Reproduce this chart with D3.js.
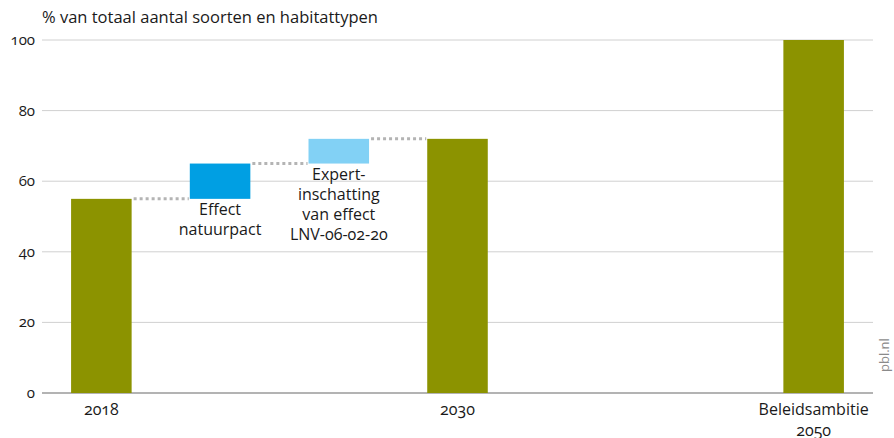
<!DOCTYPE html>
<html><head><meta charset="utf-8">
<script src="https://cdn.jsdelivr.net/npm/d3@7"></script>
<style>
body{margin:0;background:#fff;}
text{font-family:"Open Sans","Noto Sans",sans-serif;font-variant-numeric:oldstyle-nums;fill:#1a1a1a;}
</style></head>
<body><svg id="c" width="894" height="438"></svg>
<script>
const slots = ["2018","Effect natuurpact","Expert","2030","s4","s5","Beleidsambitie 2050"];
const barStart = [0, 55, 65, 0, null, null, 0];
const barEnd   = [55, 65, 72, 72, null, null, 100];
const barColors = ["#8c9300","#009fe3","#82d1f5","#8c9300",null,null,"#8c9300"];
const xLabels = [["2018"],[],[],["2030"],[],[],["Beleidsambitie","2050"]];
const innerLabels = [[],["Effect","natuurpact"],["Expert-","inschatting","van effect","LNV-06-02-20"],[],[],[],[]];
const yTicks = [0,20,40,60,80,100];
const yTitle = "% van totaal aantal soorten en habitattypen";

const svg = d3.select("#c");
const mLeft = 42, mRight = 873, mTop = 40, mBottom = 393;
const x = d3.scaleBand().domain(slots).range([mLeft,mRight]).paddingInner(0.49).paddingOuter(0.245);
const y = d3.scaleLinear().domain([0,100]).range([mBottom,mTop]);

// gridlines
svg.append("g").selectAll("line").data(yTicks).join("line")
  .attr("x1",mLeft).attr("x2",mRight)
  .attr("y1",d=>y(d)).attr("y2",d=>y(d))
  .attr("stroke",d=>d===0?"#9a9a9a":"#d0d0d0").attr("stroke-width",d=>d===0?1.5:1);

// y tick labels
svg.append("g").selectAll("text").data(yTicks).join("text")
  .attr("x",35).attr("y",d=>y(d)+5).attr("text-anchor","end")
  .style("font-size","15px").text(d=>d);

svg.append("text").attr("x",42).attr("y",23).style("font-size","16.5px").text(yTitle);

// connectors
const conn = [];
for (let i=0;i<slots.length-1;i++){
  if (barEnd[i]!=null && barEnd[i+1]!=null && !(barStart[i]===0 && barStart[i+1]===0)) {
    conn.push({x1:x(slots[i])+x.bandwidth(), x2:x(slots[i+1]), v: barEnd[i]});
  }
}
svg.append("g").selectAll("line").data(conn).join("line")
  .attr("x1",d=>d.x1+2).attr("x2",d=>d.x2-1).attr("y1",d=>y(d.v)).attr("y2",d=>y(d.v))
  .attr("stroke","#b4b4b4").attr("stroke-width",3).attr("stroke-dasharray","3,3");

// bars
const bars = slots.map((s,i)=>({s,i,a:barStart[i],b:barEnd[i],c:barColors[i]})).filter(d=>d.b!=null);
svg.append("g").selectAll("rect").data(bars).join("rect")
  .attr("x",d=>x(d.s)).attr("width",x.bandwidth())
  .attr("y",d=>y(d.b)).attr("height",d=>y(d.a)-y(d.b))
  .attr("fill",d=>d.c);

// x labels
slots.forEach((s,i)=>{
  xLabels[i].forEach((t,j)=>{
    svg.append("text").attr("x",x(s)+x.bandwidth()/2).attr("y",415+j*21)
      .attr("text-anchor","middle").style("font-size","16px").text(t);
  });
  innerLabels[i].forEach((t,j)=>{
    svg.append("text").attr("x",x(s)+x.bandwidth()/2).attr("y",y(barStart[i])+16.5+j*20)
      .attr("text-anchor","middle").style("font-size","16px").text(t);
  });
});

svg.append("text").attr("transform","translate(889,372) rotate(-90)")
  .style("font-size","13px").style("fill","#8a8a8a").text("pbl.nl");
</script></body></html>
